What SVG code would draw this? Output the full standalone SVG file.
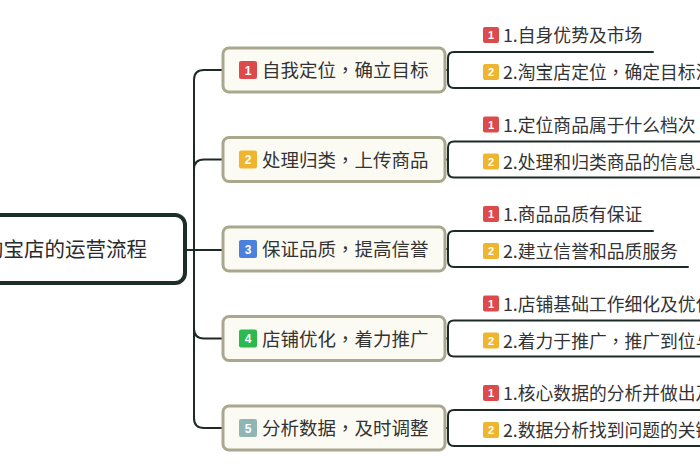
<svg xmlns="http://www.w3.org/2000/svg" width="700" height="470" viewBox="0 0 700 470">
<style>
.bg{fill:#ffffff}
.root{fill:#ffffff;stroke:#1d2e27;stroke-width:4}
.branch{fill:#fcfbf3;stroke:#aaa78f;stroke-width:3}
.line{fill:none;stroke:#1e2a24;stroke-width:2;stroke-linecap:round;stroke-linejoin:round}
.t{font-family:"Noto Sans CJK SC","Noto Sans",sans-serif;fill:#333333}
.cm{font-family:"Noto Sans CJK TC","Noto Sans CJK SC",sans-serif}
.rt{font-size:20.5px;fill:#2a2a2a}
.bt{font-size:18.5px}
.lt{font-size:17.8px}
.bn{font-family:"Liberation Sans","DejaVu Sans",sans-serif;font-size:12px;fill:#ffffff;text-anchor:middle;font-weight:bold}
.bl{font-family:"Liberation Sans","DejaVu Sans",sans-serif;font-size:11px;fill:#ffffff;text-anchor:middle;font-weight:bold}
.c1{fill:#dc4a4c}
.c2{fill:#f0b52e}
.c3{fill:#4b80dc}
.c4{fill:#2bb950}
.c5{fill:#8fb5b5}
</style>
<rect class="bg" x="0" y="0" width="700" height="470"/>

<g id="connectors">
  <path class="line" d="M185 250 H223"/>
  <path class="line" d="M194 250 V80 Q194 70 204 70 H223"/>
  <path class="line" d="M194 250 V169.5 Q194 159.5 204 159.5 H223"/>
  <path class="line" d="M194 250 V328.5 Q194 338.5 204 338.5 H223"/>
  <path class="line" d="M194 250 V418 Q194 428 204 428 H223"/>
  <path class="line" d="M445 70 H448"/>
  <path class="line" d="M653 52 H454 Q448 52 448 58 V82 Q448 88 454 88 H710"/>
  <path class="line" d="M445 159.5 H448"/>
  <path class="line" d="M710 141.5 H454 Q448 141.5 448 147.5 V171.5 Q448 177.5 454 177.5 H710"/>
  <path class="line" d="M445 249 H448"/>
  <path class="line" d="M653 231 H454 Q448 231 448 237 V261 Q448 267 454 267 H688"/>
  <path class="line" d="M445 338.5 H448"/>
  <path class="line" d="M710 320.5 H454 Q448 320.5 448 326.5 V350.5 Q448 356.5 454 356.5 H710"/>
  <path class="line" d="M445 428 H448"/>
  <path class="line" d="M710 410 H454 Q448 410 448 416 V440 Q448 446 454 446 H710"/>
</g>

<g id="root">
  <rect class="root" x="-20" y="215" width="205" height="68" rx="10"/>
  <text class="t rt" x="-17" y="257">淘宝店的运营流程</text>
</g>

<g id="branch1">
  <rect class="branch" x="223" y="48" width="222" height="44" rx="6"/>
  <rect class="c1" x="239" y="61" width="18" height="18" rx="2"/>
  <text class="bn" x="248" y="74.5">1</text>
  <text class="t bt" x="262" y="77">自我定位<tspan class="cm">，</tspan>确立目标</text>
</g>
<g id="branch2">
  <rect class="branch" x="223" y="137.5" width="222" height="44" rx="6"/>
  <rect class="c2" x="239" y="150.5" width="18" height="18" rx="2"/>
  <text class="bn" x="248" y="164">2</text>
  <text class="t bt" x="262" y="166.5">处理归类<tspan class="cm">，</tspan>上传商品</text>
</g>
<g id="branch3">
  <rect class="branch" x="223" y="227" width="222" height="44" rx="6"/>
  <rect class="c3" x="239" y="240" width="18" height="18" rx="2"/>
  <text class="bn" x="248" y="253.5">3</text>
  <text class="t bt" x="262" y="256">保证品质<tspan class="cm">，</tspan>提高信誉</text>
</g>
<g id="branch4">
  <rect class="branch" x="223" y="316.5" width="222" height="44" rx="6"/>
  <rect class="c4" x="239" y="329.5" width="18" height="18" rx="2"/>
  <text class="bn" x="248" y="343">4</text>
  <text class="t bt" x="262" y="345.5">店铺优化<tspan class="cm">，</tspan>着力推广</text>
</g>
<g id="branch5">
  <rect class="branch" x="223" y="406" width="222" height="44" rx="6"/>
  <rect class="c5" x="239" y="419" width="18" height="18" rx="2"/>
  <text class="bn" x="248" y="432.5">5</text>
  <text class="t bt" x="262" y="435">分析数据<tspan class="cm">，</tspan>及时调整</text>
</g>

<g id="leaf1a">
  <rect class="c1" x="483" y="27" width="16" height="16" rx="2"/>
  <text class="bl" x="491" y="39">1</text>
  <text class="t lt" x="503" y="42">1.自身优势及市场</text>
</g>
<g id="leaf1b">
  <rect class="c2" x="483" y="64" width="16" height="16" rx="2"/>
  <text class="bl" x="491" y="76">2</text>
  <text class="t lt" x="503" y="79">2.淘宝店定位<tspan class="cm">，</tspan>确定目标消</text>
</g>
<g id="leaf2a">
  <rect class="c1" x="483" y="116.5" width="16" height="16" rx="2"/>
  <text class="bl" x="491" y="128.5">1</text>
  <text class="t lt" x="503" y="131.5">1.定位商品属于什么档次</text>
</g>
<g id="leaf2b">
  <rect class="c2" x="483" y="153.5" width="16" height="16" rx="2"/>
  <text class="bl" x="491" y="165.5">2</text>
  <text class="t lt" x="503" y="168.5">2.处理和归类商品的信息上</text>
</g>
<g id="leaf3a">
  <rect class="c1" x="483" y="206" width="16" height="16" rx="2"/>
  <text class="bl" x="491" y="218">1</text>
  <text class="t lt" x="503" y="221">1.商品品质有保证</text>
</g>
<g id="leaf3b">
  <rect class="c2" x="483" y="243" width="16" height="16" rx="2"/>
  <text class="bl" x="491" y="255">2</text>
  <text class="t lt" x="503" y="258">2.建立信誉和品质服务</text>
</g>
<g id="leaf4a">
  <rect class="c1" x="483" y="295.5" width="16" height="16" rx="2"/>
  <text class="bl" x="491" y="307.5">1</text>
  <text class="t lt" x="503" y="310.5">1.店铺基础工作细化及优化</text>
</g>
<g id="leaf4b">
  <rect class="c2" x="483" y="332.5" width="16" height="16" rx="2"/>
  <text class="bl" x="491" y="344.5">2</text>
  <text class="t lt" x="503" y="347.5">2.着力于推广<tspan class="cm">，</tspan>推广到位与</text>
</g>
<g id="leaf5a">
  <rect class="c1" x="483" y="385" width="16" height="16" rx="2"/>
  <text class="bl" x="491" y="397">1</text>
  <text class="t lt" x="503" y="400">1.核心数据的分析并做出及</text>
</g>
<g id="leaf5b">
  <rect class="c2" x="483" y="422" width="16" height="16" rx="2"/>
  <text class="bl" x="491" y="434">2</text>
  <text class="t lt" x="503" y="437">2.数据分析找到问题的关键</text>
</g>
</svg>
